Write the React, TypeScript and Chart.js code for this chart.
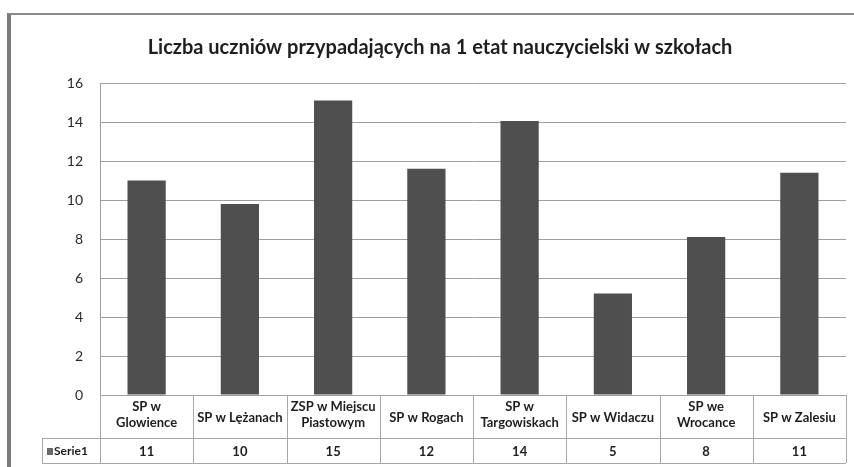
import React, { useEffect, useRef } from "react";
import { Chart, registerables } from "chart.js";

Chart.register(...registerables);

const TITLE = "Liczba uczniów przypadających na 1 etat nauczycielski w szkołach";
const CATEGORIES: string[][] = [
  ["SP w", "Glowience"],
  ["SP w Lężanach"],
  ["ZSP w Miejscu", "Piastowym"],
  ["SP w Rogach"],
  ["SP w", "Targowiskach"],
  ["SP w Widaczu"],
  ["SP we", "Wrocance"],
  ["SP w Zalesiu"],
];
const SERIES_NAME = "Serie1";
const VALUES = [11, 9.8, 15.1, 11.6, 14.05, 5.2, 8.1, 11.4];
const Y_MIN = 0;
const Y_MAX = 16;
const Y_STEP = 2;

const FONT = "Lato, 'Open Sans', sans-serif";

const tablePlugin = {
  id: "dataTable",
  afterDraw(chart: any) {
    const { ctx, chartArea, scales } = chart;
    const x = scales.x;
    const top = chartArea.bottom;
    const mid = top + 43;
    const bot = top + 68;
    const serieLeft = 31;
    ctx.save();
    // title
    ctx.fillStyle = "#1e1e1e";
    ctx.font = `bold 20px ${FONT}`;
    ctx.textAlign = "center";
    ctx.textBaseline = "middle";
    ctx.fillText(TITLE, 429, 33);

    ctx.strokeStyle = "#a8a8a8";
    ctx.lineWidth = 1;
    const line = (x1: number, y1: number, x2: number, y2: number) => {
      ctx.beginPath();
      ctx.moveTo(x1, y1);
      ctx.lineTo(x2, y2);
      ctx.stroke();
    };
    line(serieLeft, Math.round(mid) + 0.5, chartArea.right, Math.round(mid) + 0.5);
    line(serieLeft, Math.round(bot) + 0.5, chartArea.right, Math.round(bot) + 0.5);
    line(serieLeft + 0.5, mid, serieLeft + 0.5, bot);
    const n = CATEGORIES.length;
    const edges: number[] = [chartArea.left];
    for (let i = 0; i < n - 1; i++) {
      edges.push((x.getPixelForValue(i) + x.getPixelForValue(i + 1)) / 2);
    }
    edges.push(chartArea.right);
    edges.forEach((e) => line(Math.round(e) + 0.5, top, Math.round(e) + 0.5, bot));

    ctx.fillStyle = "#1e1e1e";
    ctx.font = `bold 13px ${FONT}`;
    ctx.textAlign = "center";
    CATEGORIES.forEach((lab, i) => {
      const cx = x.getPixelForValue(i);
      if (lab.length === 1) {
        ctx.fillText(lab[0], cx, top + 23);
      } else {
        lab.forEach((l, j) => ctx.fillText(l, cx, top + 12 + j * 16));
      }
      ctx.fillText(String(Math.round(VALUES[i])), cx, mid + 13.5);
    });
    // legend key
    ctx.fillStyle = "#6a6a6a";
    ctx.fillRect(36, mid + 10, 6, 7);
    ctx.fillStyle = "#1e1e1e";
    ctx.font = `bold 12px ${FONT}`;
    ctx.textAlign = "left";
    ctx.fillText(SERIES_NAME, 43, mid + 13.5);
    ctx.restore();
  },
};

export default function App() {
  const ref = useRef<HTMLCanvasElement | null>(null);
  useEffect(() => {
    if (!ref.current) return;
    const chart = new Chart(ref.current, {
      type: "bar",
      data: {
        labels: CATEGORIES.map((c) => c.join(" ")),
        datasets: [
          {
            label: SERIES_NAME,
            data: VALUES,
            backgroundColor: "#4f4f4f",
            borderWidth: 0,
            barPercentage: 0.41,
            categoryPercentage: 1,
          },
        ],
      },
      options: {
        responsive: false,
        animation: false,
        devicePixelRatio: 1,
        layout: { padding: { left: 0, right: 8, top: 68, bottom: 72 } },
        plugins: {
          legend: { display: false },
          title: { display: false },
          tooltip: { enabled: false },
        },
        scales: {
          x: { display: false },
          y: {
            min: Y_MIN,
            max: Y_MAX,
            afterFit: (s: any) => {
              s.width = 89;
            },
            ticks: {
              stepSize: Y_STEP,
              padding: 17,
              color: "#2a2a2a",
              font: { family: FONT, size: 14 },
            },
            grid: { color: "#a0a0a0", lineWidth: 1, drawTicks: false },
            border: { display: true, color: "#a0a0a0" },
          },
        },
      },
      plugins: [tablePlugin],
    });
    return () => chart.destroy();
  }, []);
  return (
    <div
      style={{
        position: "fixed",
        left: 7,
        top: 13,
        width: 847,
        height: 454,
        boxSizing: "border-box",
        borderLeft: "4px solid #7a7a7a",
        borderTop: "2px solid #8a8a8a",
        background: "#fff",
      }}
    >
      <canvas ref={ref} width={843} height={452} style={{ display: "block" }} />
    </div>
  );
}
